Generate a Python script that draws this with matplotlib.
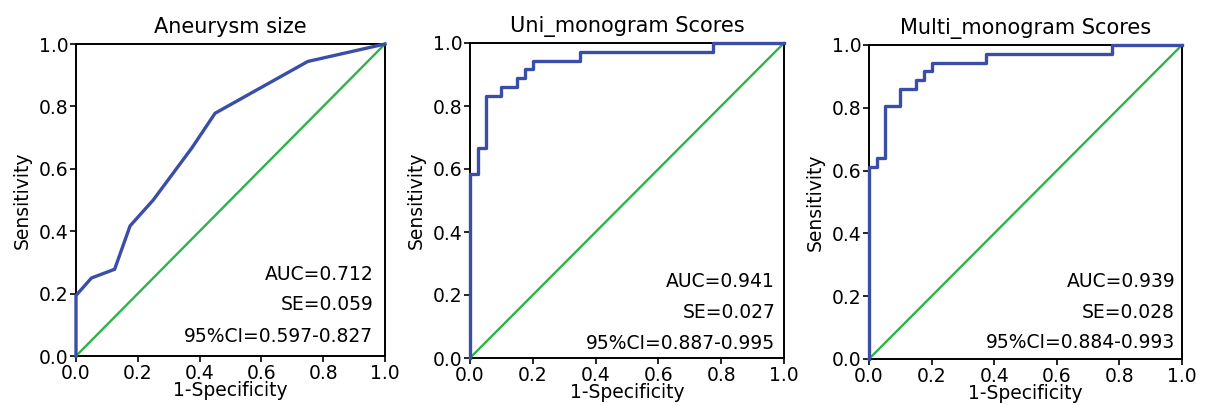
import matplotlib
matplotlib.use("Agg")
import matplotlib.pyplot as plt

# ---- data ----
titles = ["Aneurysm size", "Uni_monogram Scores", "Multi_monogram Scores"]

fpr_size = [0, 0, 0.05, 0.125, 0.175, 0.25, 0.375, 0.45, 0.75, 1.0]
tpr_size = [0, 0.194, 0.25, 0.278, 0.417, 0.5, 0.667, 0.778, 0.944, 1.0]

fpr_uni = [0, 0.025, 0.05, 0.1, 0.15, 0.175, 0.2, 0.35, 0.775, 1.0]
tpr_uni = [0, 0.583, 0.667, 0.833, 0.861, 0.889, 0.917, 0.944, 0.972, 1.0]

fpr_multi = [0, 0.025, 0.05, 0.1, 0.15, 0.175, 0.2, 0.375, 0.775, 1.0]
tpr_multi = [0, 0.611, 0.639, 0.806, 0.861, 0.889, 0.917, 0.944, 0.972, 1.0]

auc_vals = ["0.712", "0.941", "0.939"]
se_vals = ["0.059", "0.027", "0.028"]
ci_vals = ["0.597-0.827", "0.887-0.995", "0.884-0.993"]

ticks = [0.0, 0.2, 0.4, 0.6, 0.8, 1.0]
tick_labels = ["0.0", "0.2", "0.4", "0.6", "0.8", "1.0"]

# ---- style ----
plt.rcParams["font.family"] = ["DejaVu Sans"]
BLUE = "#3a4ea8"
GREEN = "#2db34a"

fig = plt.figure(figsize=(12.06, 4.05), dpi=100)
positions = [
    [76 / 1206, 49 / 405, 309 / 1206, 312 / 405],
    [470 / 1206, 47 / 405, 314 / 1206, 315 / 405],
    [869 / 1206, 46 / 405, 313 / 1206, 314 / 405],
]
curves = [(fpr_size, tpr_size, None), (fpr_uni, tpr_uni, "pre"), (fpr_multi, tpr_multi, "pre")]
text_ys = [(0.245, 0.148, 0.045), (0.225, 0.128, 0.030), (0.228, 0.132, 0.035)]
text_xs = [0.962, 0.972, 0.978]

for i in range(3):
    ax = fig.add_axes(positions[i])
    x, y, step = curves[i]
    ax.plot([0, 1], [0, 1], color=GREEN, lw=1.7, zorder=3, clip_on=False)
    if step:
        ax.step(x, y, where=step, color=BLUE, lw=2.4, zorder=4, clip_on=False)
    else:
        ax.plot(x, y, color=BLUE, lw=2.4, zorder=4, clip_on=False, solid_joinstyle="miter")
    ax.set_xlim(0, 1)
    ax.set_ylim(0, 1)
    ax.set_xticks(ticks)
    ax.set_yticks(ticks)
    ax.set_xticklabels(tick_labels)
    ax.set_yticklabels(tick_labels)
    ax.tick_params(direction="out", length=4, width=1.2, labelsize=13.5, pad=1.5, colors="black")
    for sp in ax.spines.values():
        sp.set_linewidth(1.4)
        sp.set_color("black")
        sp.set_zorder(2)
    ax.set_title(titles[i], fontsize=15, pad=8)
    ax.set_xlabel("1-Specificity", fontsize=13.5, labelpad=-1)
    ax.set_ylabel("Sensitivity", fontsize=13.5, labelpad=5)
    ys = text_ys[i]
    tx = text_xs[i]
    ax.text(tx, ys[0], "AUC=" + auc_vals[i], transform=ax.transAxes, ha="right", va="baseline", fontsize=13.5)
    ax.text(tx, ys[1], "SE=" + se_vals[i], transform=ax.transAxes, ha="right", va="baseline", fontsize=13.5)
    ax.text(tx, ys[2], "95%CI=" + ci_vals[i], transform=ax.transAxes, ha="right", va="baseline", fontsize=13.5)

fig.savefig("out.png", dpi=100)
